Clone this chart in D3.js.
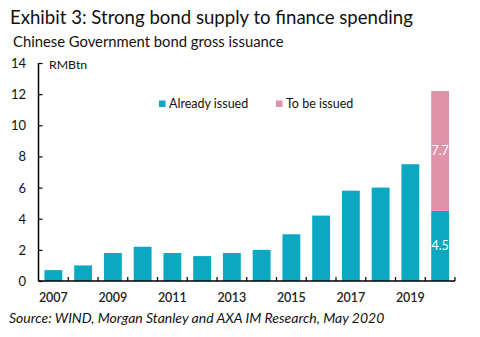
<!DOCTYPE html>
<html><head><meta charset="utf-8">
<script src="https://cdn.jsdelivr.net/npm/d3@7"></script>
<style>body{margin:0;background:#fff}svg{display:block}text{font-family:Lato,"Open Sans",sans-serif}</style>
</head><body>
<script>
const years = [2007,2008,2009,2010,2011,2012,2013,2014,2015,2016,2017,2018,2019,2020];
const alreadyIssued = [0.7,1.0,1.8,2.2,1.8,1.6,1.8,2.0,3.0,4.2,5.8,6.0,7.5,4.5];
const toBeIssued = [0,0,0,0,0,0,0,0,0,0,0,0,0,7.7];
const yTicks = [0,2,4,6,8,10,12,14];
const xLabels = [2007,2009,2011,2013,2015,2017,2019];
const seriesNames = ["Already issued","To be issued"];
const colors = ["#0aa8c1","#df93a8"];

const W=480,H=337;
const svg=d3.select("body").append("svg").attr("width",W).attr("height",H);
const m={l:38.5,r:25,t:63,b:56};
const x=d3.scaleBand().domain(years).range([m.l,455]).paddingInner(0.4).paddingOuter(0.2);
const y=d3.scaleLinear().domain([0,14]).range([281,63]);

svg.append("text").attr("x",10).attr("y",24).attr("font-size",18.6).attr("fill","#111").text("Exhibit 3: Strong bond supply to finance spending");
svg.append("text").attr("x",13).attr("y",47).attr("font-size",14.8).attr("fill","#111").text("Chinese Government bond gross issuance");

const data=years.map((yr,i)=>({yr,a:alreadyIssued[i],b:toBeIssued[i]}));
const stack=d3.stack().keys(["a","b"])(data);
stack.forEach((layer,k)=>{
  svg.append("g").selectAll("rect").data(layer).join("rect")
    .attr("x",d=>x(d.data.yr)).attr("width",x.bandwidth())
    .attr("y",d=>y(d[1])).attr("height",d=>y(d[0])-y(d[1]))
    .attr("fill",colors[k]);
});
// labels on last bar
const last=data[data.length-1];
svg.append("text").attr("x",x(last.yr)+x.bandwidth()/2).attr("y",y(last.a/2)+4.5)
  .attr("text-anchor","middle").attr("font-size",12.5).attr("fill","#fff").text(last.a);
svg.append("text").attr("x",x(last.yr)+x.bandwidth()/2).attr("y",y(last.a+last.b/2)+4.5)
  .attr("text-anchor","middle").attr("font-size",12.5).attr("fill","#fff").text(last.b);

// y axis
const ya=svg.append("g").attr("transform",`translate(${m.l},0)`)
  .call(d3.axisRight(y).tickValues(yTicks).tickSize(4).tickFormat(""));
ya.select(".domain").attr("stroke","#000").attr("stroke-width",1.5).attr("d",`M0,${y(14)}V${y(0)}`);
ya.selectAll(".tick line").attr("stroke","#000").attr("stroke-width",1.2);
svg.append("g").selectAll("text").data(yTicks).join("text")
  .attr("x",26).attr("y",d=>y(d)+5).attr("text-anchor","end").attr("font-size",13).attr("fill","#111").text(d=>d);
svg.append("text").attr("x",49).attr("y",69).attr("font-size",12.3).attr("fill","#111").text("RMBtn");

// x axis
const step=x.step();
const xs=svg.append("g");
xs.append("line").attr("x1",m.l).attr("x2",455).attr("y1",y(0)).attr("y2",y(0)).attr("stroke","#000").attr("stroke-width",1.5);
xs.selectAll("line.t").data(years).join("line").attr("class","t")
  .attr("x1",d=>x(d)+x.bandwidth()+ (step-x.bandwidth())/2).attr("x2",d=>x(d)+x.bandwidth()+(step-x.bandwidth())/2)
  .attr("y1",y(0)).attr("y2",y(0)-4).attr("stroke","#000").attr("stroke-width",1.2);
xs.selectAll("text").data(xLabels).join("text")
  .attr("x",d=>x(d)+x.bandwidth()/2).attr("y",302).attr("text-anchor","middle")
  .attr("font-size",12.5).attr("font-weight",600).attr("fill","#222").text(d=>d);

// legend
const lg=svg.append("g");
const lx=[159,276];
seriesNames.forEach((n,i)=>{
  lg.append("rect").attr("x",lx[i]).attr("y",100.5).attr("width",6.5).attr("height",6.5).attr("fill",colors[i]);
  lg.append("text").attr("x",lx[i]+10).attr("y",108).attr("font-size",12.5).attr("fill","#111").text(n);
});

svg.append("text").attr("x",9).attr("y",323).attr("font-size",14).attr("font-style","italic").attr("fill","#111")
  .text("Source: WIND, Morgan Stanley and AXA IM Research, May 2020");
</script>
</body></html>
